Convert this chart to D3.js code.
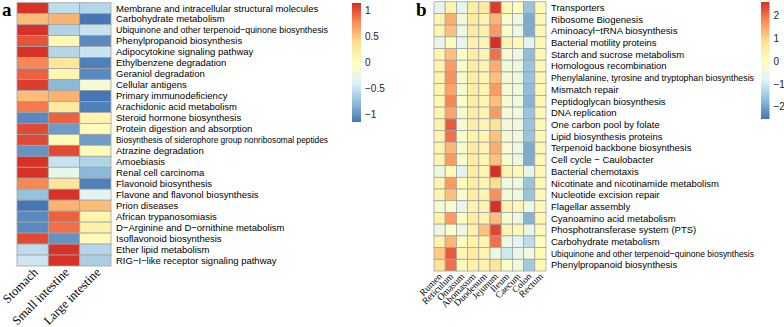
<!doctype html>
<html>
  <head>
    <meta charset="utf-8">
    <title>heatmaps</title>
    <script src="https://d3js.org/d3.v7.min.js"></script>
    <style>
      body { margin: 0; background: #fff; }
      text { font-family: "Liberation Sans", Arial, sans-serif; fill: #000; }
      .serif { font-family: "Liberation Serif", "Times New Roman", serif; }
    </style>
  </head>
  <body>
    <svg id="chart"></svg>
    <script>
      // ---- panel a data (row z-scores) ----
      var tissuesA = ['Stomach', 'Small intestine', 'Large intestine'];
      var pathwaysA = [
        'Membrane and intracellular structural molecules',
        'Carbohydrate metabolism',
        'Ubiquinone and other terpenoid\u2212quinone biosynthesis',
        'Phenylpropanoid biosynthesis',
        'Adipocytokine signaling pathway',
        'Ethylbenzene degradation',
        'Geraniol degradation',
        'Cellular antigens',
        'Primary immunodeficiency',
        'Arachidonic acid metabolism',
        'Steroid hormone biosynthesis',
        'Protein digestion and absorption',
        'Biosynthesis of siderophore group nonribosomal peptides',
        'Atrazine degradation',
        'Amoebiasis',
        'Renal cell carcinoma',
        'Flavonoid biosynthesis',
        'Flavone and flavonol biosynthesis',
        'Prion diseases',
        'African trypanosomiasis',
        'D\u2212Arginine and D\u2212ornithine metabolism',
        'Isoflavonoid biosynthesis',
        'Ether lipid metabolism',
        'RIG\u2212I\u2212like receptor signaling pathway'
      ];
      var valuesA = [
        [1.15, -0.55, -0.6],
        [0.55, 0.6, -1.15],
        [1.15, -0.62, -0.5],
        [1.0, 0.08, -1.05],
        [1.15, -0.6, -0.5],
        [0.8, 0.3, -1.1],
        [0.95, 0.12, -1.05],
        [1.1, -0.8, -0.15],
        [0.55, 0.6, -1.15],
        [0.85, 0.25, -1.1],
        [-1.05, 0.95, 0.12],
        [1.05, -0.95, 0.05],
        [1.05, 0.05, -0.95],
        [-1.0, 1.05, 0.05],
        [1.15, -0.5, -0.62],
        [1.15, -0.3, -0.8],
        [0.8, 0.3, -1.1],
        [-0.75, 1.15, -0.35],
        [-1.15, 0.6, 0.55],
        [-1.05, 0.95, 0.12],
        [-1.05, 0.9, 0.18],
        [1.05, -1.0, 0.05],
        [-0.55, 1.15, -0.6],
        [-0.48, 1.15, -0.65]
      ];
      var ticksA = [1, 0.5, 0, -0.5, -1];

      // ---- panel b data (row z-scores) ----
      var sitesB = ['Rumen', 'Reticulum', 'Omasum', 'Abomasum', 'Duodenum',
        'Jejunum', 'Ileum', 'Caecum', 'Colon', 'Rectum'];
      var pathwaysB = [
        'Transporters',
        'Ribosome Biogenesis',
        'Aminoacyl\u2212tRNA biosynthesis',
        'Bacterial motility proteins',
        'Starch and sucrose metabolism',
        'Homologous recombination',
        'Phenylalanine, tyrosine and tryptophan biosynthesis',
        'Mismatch repair',
        'Peptidoglycan biosynthesis',
        'DNA replication',
        'One carbon pool by folate',
        'Lipid biosynthesis proteins',
        'Terpenoid backbone biosynthesis',
        'Cell cycle \u2212 Caulobacter',
        'Bacterial chemotaxis',
        'Nicotinate and nicotinamide metabolism',
        'Nucleotide excision repair',
        'Flagellar assembly',
        'Cyanoamino acid metabolism',
        'Phosphotransferase system (PTS)',
        'Carbohydrate metabolism',
        'Ubiquinone and other terpenoid\u2212quinone biosynthesis',
        'Phenylpropanoid biosynthesis'
      ];
      var valuesB = [
        [-0.7, 0.3, -0.7, 0.5, 0.6, 2.5, 0.2, 0.0, -1.6, 0.2],
        [0.3, 1.4, -0.3, 0.6, 0.3, 1.3, -0.1, -0.5, -1.9, 0.2],
        [0.3, 1.2, -0.5, 0.6, 0.4, 1.6, -0.1, -0.5, -1.9, 0.2],
        [-0.6, 0.1, -0.6, 0.4, 0.3, 2.6, 0.3, 0.2, -0.8, 0.2],
        [0.3, 1.2, -0.1, 0.5, 0.3, 2.0, -0.2, -0.5, -1.7, 0.2],
        [0.3, 1.6, -0.1, 0.5, 0.3, 1.4, -0.4, -0.5, -1.6, 0.2],
        [0.3, 1.7, -0.2, 0.5, 0.3, 1.2, -0.3, -0.5, -1.6, 0.2],
        [0.3, 1.5, -0.2, 0.5, 0.3, 1.6, -0.2, -0.4, -1.7, 0.2],
        [0.3, 1.8, -0.1, 0.5, 0.3, 1.2, -0.2, -0.4, -1.8, 0.2],
        [0.3, 1.5, -0.2, 0.5, 0.3, 1.6, -0.3, -0.4, -1.6, 0.2],
        [0.4, 2.2, -0.2, 0.5, 0.3, 0.8, -0.3, -0.4, -1.6, 0.2],
        [0.3, 2.0, -0.1, 0.4, 0.3, 1.2, -0.3, -0.4, -1.6, 0.2],
        [0.3, 1.3, -0.2, 0.6, 0.3, 1.4, -0.2, -0.5, -1.9, 0.2],
        [0.3, 1.6, -0.1, 0.5, 0.3, 1.2, -0.2, -0.5, -1.9, 0.2],
        [-0.5, 0.1, -0.8, 0.5, 0.3, 2.6, 0.3, 0.2, -0.6, 0.2],
        [0.3, 1.6, 0.1, 0.5, 0.3, 0.9, -0.5, -0.5, -1.6, 0.2],
        [0.3, 1.2, -0.1, 0.5, 0.3, 1.7, -0.3, -0.5, -1.6, 0.2],
        [-0.2, -0.1, -0.6, 0.4, 0.3, 2.6, 0.3, 0.2, -0.5, 0.2],
        [0.4, 1.6, 0.1, 0.5, 0.3, 1.2, -0.2, -0.5, -1.8, 0.2],
        [-0.5, -0.1, -0.5, 0.4, 1.2, 2.4, 0.3, 0.2, -0.6, 0.2],
        [0.3, 1.3, 0.1, 0.4, 0.3, 2.0, -0.5, -0.7, -1.2, 0.0],
        [1.1, 2.2, 0.3, 0.5, 0.3, -0.5, -1.0, -0.6, -0.4, 0.2],
        [0.8, 2.0, 0.2, 0.4, 0.3, 0.7, -0.1, -0.4, -1.5, 0.2]
      ];
      var ticksB = [2, 1, 0, -1, -2];

      var palette = ['#4575B4', '#91BFDB', '#E0F3F8', '#FFFFBF', '#FEE090', '#FC8D59', '#D73027'];

      var svg = d3.select('#chart').attr('width', 784).attr('height', 327);

      function heatmap(opt) {
        var g = svg.append('g');
        var x = d3.scaleBand().domain(d3.range(opt.cols.length)).range([opt.x0, opt.x1]);
        var y = d3.scaleBand().domain(d3.range(opt.rows.length)).range([opt.y0, opt.y1]);
        var stops = d3.range(palette.length).map(function(i) {
          return opt.min + (opt.max - opt.min) * i / (palette.length - 1);
        });
        var color = d3.scaleLinear().domain(stops).range(palette).interpolate(d3.interpolateRgb);

        var cells = [];
        opt.values.forEach(function(row, i) {
          row.forEach(function(v, j) { cells.push({ r: i, c: j, v: v }); });
        });

        g.selectAll('rect.cell')
          .data(cells)
          .enter()
          .append('rect')
          .attr('class', 'cell')
          .attr('x', function(d) { return x(d.c); })
          .attr('y', function(d) { return y(d.r); })
          .attr('width', x.bandwidth())
          .attr('height', y.bandwidth())
          .attr('fill', function(d) { return color(d.v); })
          .attr('stroke', '#a3a3a3')
          .attr('stroke-width', 0.8);

        // row labels; squeeze the few that would run past the limit
        var labelX = opt.x1 + 5;
        g.selectAll('text.row')
          .data(opt.rows)
          .enter()
          .append('text')
          .attr('class', 'row')
          .attr('x', labelX)
          .attr('y', function(d, i) { return y(i) + y.bandwidth() / 2; })
          .attr('dy', '0.35em')
          .style('font-size', opt.rowFont + 'px')
          .text(function(d) { return d; })
          .each(function() {
            var w = this.getComputedTextLength();
            if (labelX + w > opt.maxRight) {
              d3.select(this)
                .attr('textLength', opt.maxRight - labelX)
                .attr('lengthAdjust', 'spacingAndGlyphs');
            }
          });

        // column labels, rotated
        g.selectAll('text.col')
          .data(opt.cols)
          .enter()
          .append('text')
          .attr('class', 'col serif')
          .attr('text-anchor', 'end')
          .attr('transform', function(d, i) {
            var cx = x(i) + x.bandwidth() / 2 + opt.colDx;
            return 'translate(' + cx + ',' + (opt.y1 + opt.colDy) + ') rotate(-45)';
          })
          .style('font-size', opt.colFont + 'px')
          .text(function(d) { return d; });

        // legend
        var gradId = 'grad' + opt.id;
        var grad = svg.append('defs').append('linearGradient')
          .attr('id', gradId)
          .attr('x1', 0).attr('y1', 1).attr('x2', 0).attr('y2', 0);
        palette.forEach(function(c, i) {
          grad.append('stop').attr('offset', (i / (palette.length - 1) * 100) + '%').attr('stop-color', c);
        });
        var ly = d3.scaleLinear().domain([opt.min, opt.max]).range([opt.ly1, opt.ly0]);
        g.append('rect')
          .attr('x', opt.lx)
          .attr('y', opt.ly0)
          .attr('width', opt.lw)
          .attr('height', opt.ly1 - opt.ly0)
          .attr('fill', 'url(#' + gradId + ')');
        g.selectAll('text.tick')
          .data(opt.ticks)
          .enter()
          .append('text')
          .attr('class', 'tick')
          .attr('x', opt.lx + opt.lw + 4)
          .attr('y', function(d) { return ly(d); })
          .attr('dy', '0.35em')
          .style('font-size', '10px')
          .style('fill', '#222')
          .text(function(d) { return d < 0 ? '\u2212' + Math.abs(d) : d; });

        g.append('text')
          .attr('class', 'serif')
          .attr('x', opt.letterX)
          .attr('y', 16)
          .style('font-size', '19px')
          .style('font-weight', 'bold')
          .text(opt.letter);
      }

      heatmap({
        id: 'a', letter: 'a', letterX: 2,
        rows: pathwaysA, cols: tissuesA, values: valuesA,
        x0: 17, x1: 111, y0: 2.7, y1: 266,
        min: -1.155, max: 1.155, ticks: ticksA,
        lx: 352, lw: 9, ly0: 3, ly1: 122,
        rowFont: 9.5, colFont: 12.5, colDx: 6, colDy: 7, maxRight: 328
      });

      heatmap({
        id: 'b', letter: 'b', letterX: 416,
        rows: pathwaysB, cols: sitesB, values: valuesB,
        x0: 434, x1: 546, y0: 1.7, y1: 271,
        min: -2.53, max: 2.59, ticks: ticksB,
        lx: 761, lw: 8.5, ly0: 2, ly1: 119,
        rowFont: 9.5, colFont: 9.5, colDx: 3, colDy: 6, maxRight: 754
      });
    </script>
  </body>
</html>
